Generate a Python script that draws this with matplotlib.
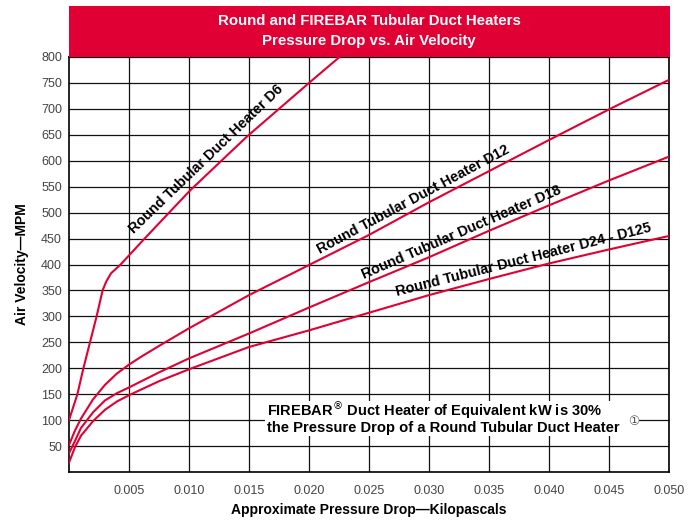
import matplotlib
matplotlib.use("Agg")
import matplotlib.pyplot as plt
from matplotlib.patches import Rectangle
import numpy as np

plt.rcParams['font.family'] = ['Liberation Sans', 'DejaVu Sans']

# pressure drop (kPa) -> air velocity (MPM)
d6_kpa = [0, 0.0007, 0.0012, 0.00175, 0.0023, 0.0028, 0.0031, 0.0035, 0.0043,
          0.0063, 0.0101, 0.0148, 0.0201, 0.0228]
d6_mpm = [100, 150, 200, 250, 300, 350, 367, 383, 400, 450, 543, 646, 752, 805]

d12_kpa = [0, 0.0005, 0.001, 0.002, 0.003, 0.004, 0.005, 0.006, 0.0075, 0.010,
           0.015, 0.020, 0.025, 0.030, 0.035, 0.040, 0.045, 0.050]
d12_mpm = [52, 80, 103, 140, 168, 190, 207, 222, 243, 277, 341, 399, 457, 520,
           580, 640, 699, 756]

d18_kpa = [0, 0.0005, 0.001, 0.002, 0.003, 0.004, 0.005, 0.0075, 0.010, 0.015,
           0.020, 0.025, 0.030, 0.035, 0.040, 0.045, 0.050]
d18_mpm = [36, 60, 85, 115, 138, 152, 163, 192, 219, 267, 317, 366, 414, 465,
           514, 562, 608]

d24_kpa = [0, 0.0005, 0.001, 0.002, 0.003, 0.004, 0.005, 0.0075, 0.010, 0.015,
           0.020, 0.025, 0.030, 0.035, 0.040, 0.045, 0.050]
d24_mpm = [18, 48, 70, 98, 120, 136, 148, 175, 198, 241, 273, 307, 341, 372,
           402, 429, 455]

x_ticks = [0.005, 0.010, 0.015, 0.020, 0.025, 0.030, 0.035, 0.040, 0.045, 0.050]
y_ticks = list(range(50, 801, 50))

series = [
    (d6_kpa, d6_mpm, "Round Tubular Duct Heater D6", 0.0121, 6.0),
    (d12_kpa, d12_mpm, "Round Tubular Duct Heater D12", 0.0291, 4.2),
    (d18_kpa, d18_mpm, "Round Tubular Duct Heater D18", 0.0330, 4.2),
    (d24_kpa, d24_mpm, "Round Tubular Duct Heater D24 - D125", 0.0381, 4.0),
]

red = '#E00034'

fig = plt.figure(figsize=(6.92, 5.21), dpi=100)
ax = fig.add_axes([69/692, 49/521, 600/692, 415/521])

ax.set_xlim(0, 0.05)
ax.set_ylim(0, 800)

for xs, ys, txt, xc, off in series:
    ax.plot(xs, ys, color=red, lw=1.5, solid_joinstyle='round', zorder=3)
    # label sits on the curve, turned to follow it
    yc = np.interp(xc, xs, ys)
    p0 = ax.transData.transform((xc - 0.004, np.interp(xc - 0.004, xs, ys)))
    p1 = ax.transData.transform((xc + 0.004, np.interp(xc + 0.004, xs, ys)))
    ang = np.degrees(np.arctan2(p1[1] - p0[1], p1[0] - p0[0]))
    t = np.radians(ang)
    ax.annotate(txt, xy=(xc, yc), xytext=(-off * np.sin(t), off * np.cos(t)),
                textcoords='offset points', rotation=ang, rotation_mode='anchor',
                ha='center', va='baseline', fontsize=10.4, fontweight='bold',
                color='black', zorder=4)

ax.set_xticks(x_ticks)
ax.set_xticklabels(['%.3f' % v for v in x_ticks])
ax.set_yticks(y_ticks)
ax.tick_params(length=0, labelsize=9, labelcolor='#444444')
ax.tick_params(axis='x', pad=9)
ax.tick_params(axis='y', pad=5)
ax.set_axisbelow(True)
ax.grid(True, color='#111111', lw=0.9)
for s in ax.spines.values():
    s.set_linewidth(1.2)
    s.set_color('black')

ax.set_xlabel('Approximate Pressure Drop\u2014Kilopascals', fontsize=10, fontweight='bold', labelpad=5)
ax.set_ylabel('Air Velocity\u2014MPM', fontsize=10, fontweight='bold', labelpad=9)

# note box
ax.add_patch(Rectangle((0.0163, 69), 0.0312, 68, facecolor='white', edgecolor='none', zorder=2))
ax.text(0.0165, 119, r'FIREBAR$^{\circledR}$ Duct Heater of Equivalent kW is 30%',
        fontsize=10.5, fontweight='bold', va='center', ha='left', zorder=4)
ax.text(0.0165, 85, 'the Pressure Drop of a Round Tubular Duct Heater',
        fontsize=10.6, fontweight='bold', va='center', ha='left', zorder=4)
ax.text(0.0471, 97, '\u2460', family=['DejaVu Sans', 'Noto Sans CJK SC'],
        fontsize=9, color='#555555', va='center', ha='center', zorder=4)

# red header band
fig.patches.append(Rectangle((69/692, 464/521), 601/692, 51/521, transform=fig.transFigure,
                             facecolor=red, edgecolor='none', zorder=5))
fig.text(369/692, 1 - 31/521, 'Round and FIREBAR Tubular Duct Heaters\nPressure Drop vs. Air Velocity',
         color='white', fontsize=10.8, fontweight='bold', ha='center', va='center',
         linespacing=1.5, zorder=6)

fig.savefig('out.png', dpi=100)
